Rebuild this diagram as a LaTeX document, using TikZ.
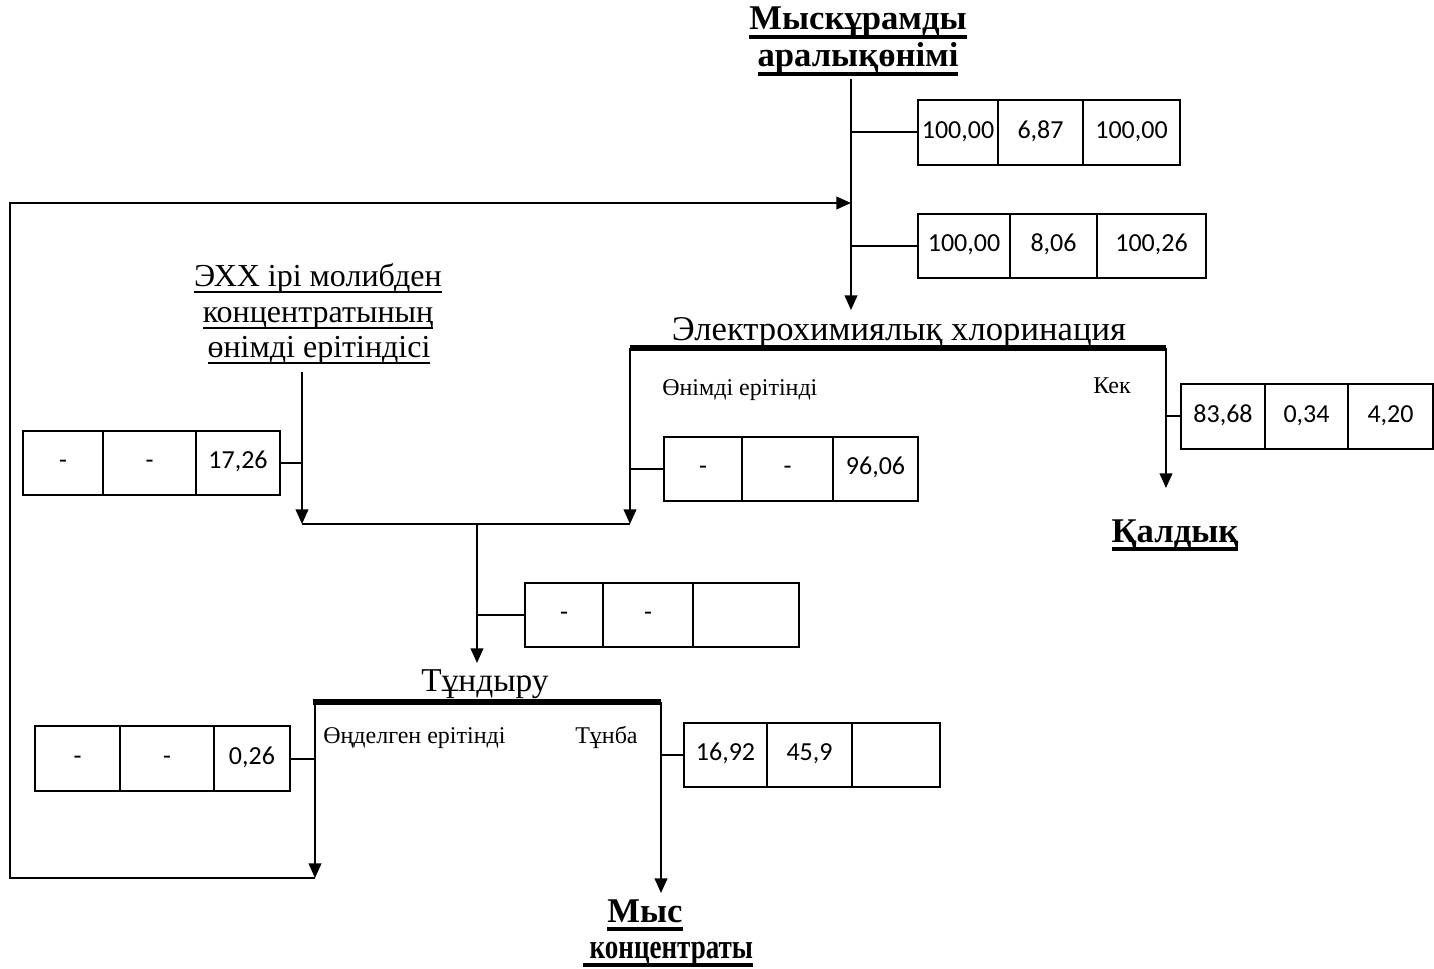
\documentclass[tikz,border=0pt]{standalone}
\usepackage{fontspec}
\setmainfont{Liberation Serif}
\newfontfamily\numfont{Carlito}
\usetikzlibrary{arrows.meta,fit}

% underlines placed a fixed distance below the baseline
\newsavebox\ulsave
\newcommand\ulbold[1]{\sbox\ulsave{#1}\rlap{\rule[-6.5pt]{\wd\ulsave}{2.8pt}}\usebox\ulsave}
\newcommand\ulthin[1]{\sbox\ulsave{#1}\rlap{\rule[-4.2pt]{\wd\ulsave}{1.1pt}}\usebox\ulsave}

% one cell of a data table: name, left, top, right, bottom, text
\newcommand\cellbox[6]{%
  \node[cellst, fit={(#2,#3)(#4,#5)}, label={[cellfont]center:#6}] (#1) {};}

\begin{document}
\begin{tikzpicture}[x=0.75pt,y=-0.75pt,
  flow/.style={line width=1.5pt},
  arr/.style={flow,-{Triangle[length=11pt,width=9.5pt]}},
  bar/.style={line width=4.3pt},
  cellst/.style={draw, line width=1.3pt, inner sep=0pt},
  cellfont/.style={font=\numfont\fontsize{19.5}{23}\selectfont, inner sep=0pt,
    text height=12.3pt, text depth=3.6pt},
  endpt/.style={font=\bfseries\fontsize{26}{30}\selectfont, anchor=base, inner sep=0pt},
  procname/.style={font=\fontsize{26}{30}\selectfont, anchor=base, inner sep=0pt},
  feed/.style={font=\fontsize{24}{28}\selectfont, anchor=base, inner sep=0pt},
  outname/.style={font=\fontsize{18}{21}\selectfont, anchor=base west, inner sep=0pt}
]
\useasboundingbox (0,0) rectangle (1434,969);

% ---------- source and trunk ----------
\node[endpt] (src1) at (858,30) {\ulbold{Мыскұрамды}};
\node[endpt] (src2) at (858,67) {\ulbold{аралықөнімі}};
\coordinate (trunk) at (851,0);
\coordinate (trunkTop) at (851,79);
\coordinate (chlIn) at (851,310);
\draw[arr] (trunkTop) -- (chlIn);

\cellbox{a1}{918}{100}{998}{165}{100,00}
\cellbox{a2}{998}{100}{1083}{165}{6,87}
\cellbox{a3}{1083}{100}{1180}{165}{100,00}
\draw[flow] (a1.west -| trunk) -- (a1.west);

\cellbox{b1}{918}{214}{1010}{278}{100,00}
\cellbox{b2}{1010}{214}{1097}{278}{8,06}
\cellbox{b3}{1097}{214}{1206}{278}{100,26}
\draw[flow] (b1.west -| trunk) -- (b1.west);

% ---------- electrochemical chlorination ----------
\node[procname] (chl) at (899,341) {Электрохимиялық хлоринация};
\coordinate (chlL) at (630,348);
\coordinate (chlR) at (1166,348);
\draw[bar] (chlL) -- (chlR);
\node[outname] (prodsol) at (662,396) {Өнімді ерітінді};
\node[outname] (cake) at (1093,394) {Кек};

\coordinate (mergeR) at (630,524);
\draw[arr] (chlL) -- (mergeR);
\coordinate (resIn) at (1166,488);
\draw[arr] (chlR) -- (resIn);

\cellbox{c1}{664}{437}{742}{501}{-}
\cellbox{c2}{742}{437}{833}{501}{-}
\cellbox{c3}{833}{437}{918}{501}{96,06}
\draw[flow] (c1.west -| chlL) -- (c1.west);

\cellbox{d1}{1181}{384}{1265}{449}{83,68}
\cellbox{d2}{1265}{384}{1348}{449}{0,34}
\cellbox{d3}{1348}{384}{1433}{449}{4,20}
\draw[flow] (d1.west -| chlR) -- (d1.west);

\node[endpt] (res) at (1175,542) {\ulbold{Қалдық}};

% ---------- molybdenum solution feed ----------
\node[feed] (moly1) at (318,287) {\ulthin{ЭХХ ірі молибден}};
\node[feed] (moly2) at (318,323) {\ulthin{концентратының}};
\node[feed] (moly3) at (319,358) {\ulthin{өнімді ерітіндісі}};
\coordinate (molyOut) at (302,372);
\coordinate (mergeL) at (302,524);
\draw[arr] (molyOut) -- (mergeL);

\cellbox{e1}{23}{431}{103}{495}{-}
\cellbox{e2}{103}{431}{196}{495}{-}
\cellbox{e3}{196}{431}{280}{495}{17,26}
\draw[flow] (e3.east) -- (e3.east -| molyOut);

% ---------- merge to precipitation ----------
\draw[flow] (mergeL) -- (mergeR);
\coordinate (mergeC) at (477,524);
\coordinate (tunIn) at (477,663);
\draw[arr] (mergeC) -- (tunIn);

\cellbox{f1}{525}{583}{603}{647}{-}
\cellbox{f2}{603}{583}{693}{647}{-}
\cellbox{f3}{693}{583}{799}{647}{}
\draw[flow] (f1.west -| mergeC) -- (f1.west);

% ---------- precipitation ----------
\node[procname, font=\fontsize{25}{29}\selectfont] (tun) at (485,691) {Тұндыру};
\coordinate (tunL) at (315,702);
\coordinate (tunR) at (661,702);
\draw[bar] (313,702) -- (tunR);
\node[outname] (treated) at (323,743) {Өңделген ерітінді};
\node[outname] (sediment) at (575,743) {Тұнба};

\coordinate (recyc) at (315,878);
\coordinate (cuIn) at (661,893);
\draw[arr] (tunL) -- (recyc);
\draw[arr] (tunR) -- (cuIn);

\cellbox{g1}{35}{726}{120}{791}{-}
\cellbox{g2}{120}{726}{214}{791}{-}
\cellbox{g3}{214}{726}{290}{791}{0,26}
\draw[flow] (g3.east) -- (g3.east -| tunL);

\cellbox{h1}{684}{723}{767}{787}{16,92}
\cellbox{h2}{767}{723}{852}{787}{45,9}
\cellbox{h3}{852}{723}{940}{787}{}
\draw[flow] (h1.west -| tunR) -- (h1.west);

\node[endpt] (cu1) at (645,922) {\ulbold{Мыс}};
\node[endpt] (cu2) at (668,958) {\ulbold{\scalebox{0.78}[1]{\ концентраты}}};

% ---------- recycle loop back to the trunk ----------
\coordinate (loopBL) at (10,878);
\coordinate (loopTL) at (10,203);
\draw[arr] (recyc) -- (loopBL) -- (loopTL) -- (loopTL -| trunk);
\end{tikzpicture}
\end{document}
